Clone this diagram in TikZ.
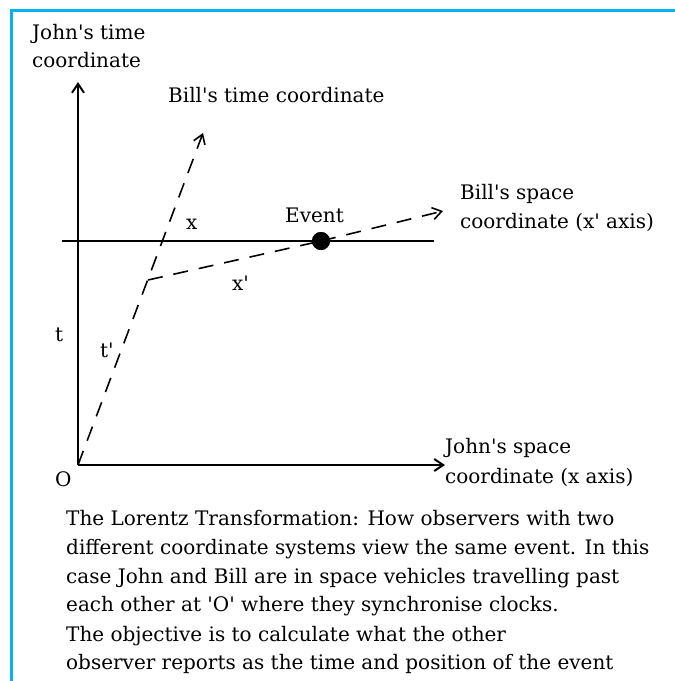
\documentclass[tikz,border=0pt]{standalone}
\usepackage{fontspec}
\setmainfont{DejaVu Serif}[Ligatures=TeXOff]
\usetikzlibrary{positioning,arrows.meta,calc}
\definecolor{frameclr}{RGB}{0,180,245}
\tikzset{
  axisline/.style={line width=2pt,-{Straight Barb[length=9pt,width=12pt]}},
  plainline/.style={line width=2pt},
  dashline/.style={line width=1.6pt,dash pattern=on 15pt off 11pt},
  dashaxis/.style={dashline,-{Straight Barb[length=9pt,width=12pt]}},
  eventdot/.style={circle,fill=black,minimum size=18pt,inner sep=0pt},
  lbl/.style={anchor=base west,inner sep=0pt,font=\fontsize{20}{29}\selectfont},
  frame/.style={draw=frameclr,line width=3pt},
}
\begin{document}
\begin{tikzpicture}[x=1pt,y=-1pt]
\useasboundingbox (0,0) rectangle (675,681);
\fill[white] (0,0) rectangle (675,681);
% blue frame
\draw[frame] (675,10) -- (11.5,10) -- (11.5,681);

% John's axes
\coordinate (O) at (78,465);
\coordinate (ttop) at (78,82);
\coordinate (xend) at (445,465);
\draw[axisline] (O) -- (ttop);
\draw[axisline] (O) -- (xend);

% line of constant t
\coordinate (hl) at (62,241);
\coordinate (hr) at (434,241);
\draw[plainline] (hl) -- (hr);

% Bill's axes
\node[eventdot] (ev) at (321,241) {};
\coordinate (tpend) at (203,133);
\coordinate (xpstart) at (148,280);
\coordinate (xpend) at (443,211);
\draw[dashaxis] (O) -- (tpend);
\draw[dashline] (xpstart) -- (ev.center);
\draw[dashaxis] (ev.center) -- (xpend);
\node[eventdot] at (ev) {};

% labels
\node[lbl] (jt1) at (32,39) {John's time};
\node[lbl] (jt2) at (32,67) {coordinate};
\node[lbl] (bt) at (168,102) {Bill's time coordinate};
\node[lbl] (bs1) at (460,199) {Bill's space};
\node[lbl] (bs2) at (460,228) {coordinate (x' axis)};
\node[lbl] (evl) at (285,222) {Event};
\node[lbl] (xl) at (186,229) {x};
\node[lbl] (xpl) at (232,290) {x'};
\node[lbl] (tl) at (55,341) {t};
\node[lbl] (tpl) at (100,357) {t'};
\node[lbl] (ol) at (55,486) {O};
\node[lbl] (js1) at (445,453) {John's space};
\node[lbl] (js2) at (445,483) {coordinate (x axis)};

% caption
\node[lbl] (c1) at (66,525) {The Lorentz Transformation: How observers with two};
\node[lbl] (c2) at (66,554) {different coordinate systems view the same event. In this};
\node[lbl] (c3) at (66,583) {case John and Bill are in space vehicles travelling past};
\node[lbl] (c4) at (66,611) {each other at 'O' where they synchronise clocks.};
\node[lbl] (c5) at (66,641) {The objective is to calculate what the other};
\node[lbl] (c6) at (66,669) {observer reports as the time and position of the event};
\end{tikzpicture}
\end{document}
